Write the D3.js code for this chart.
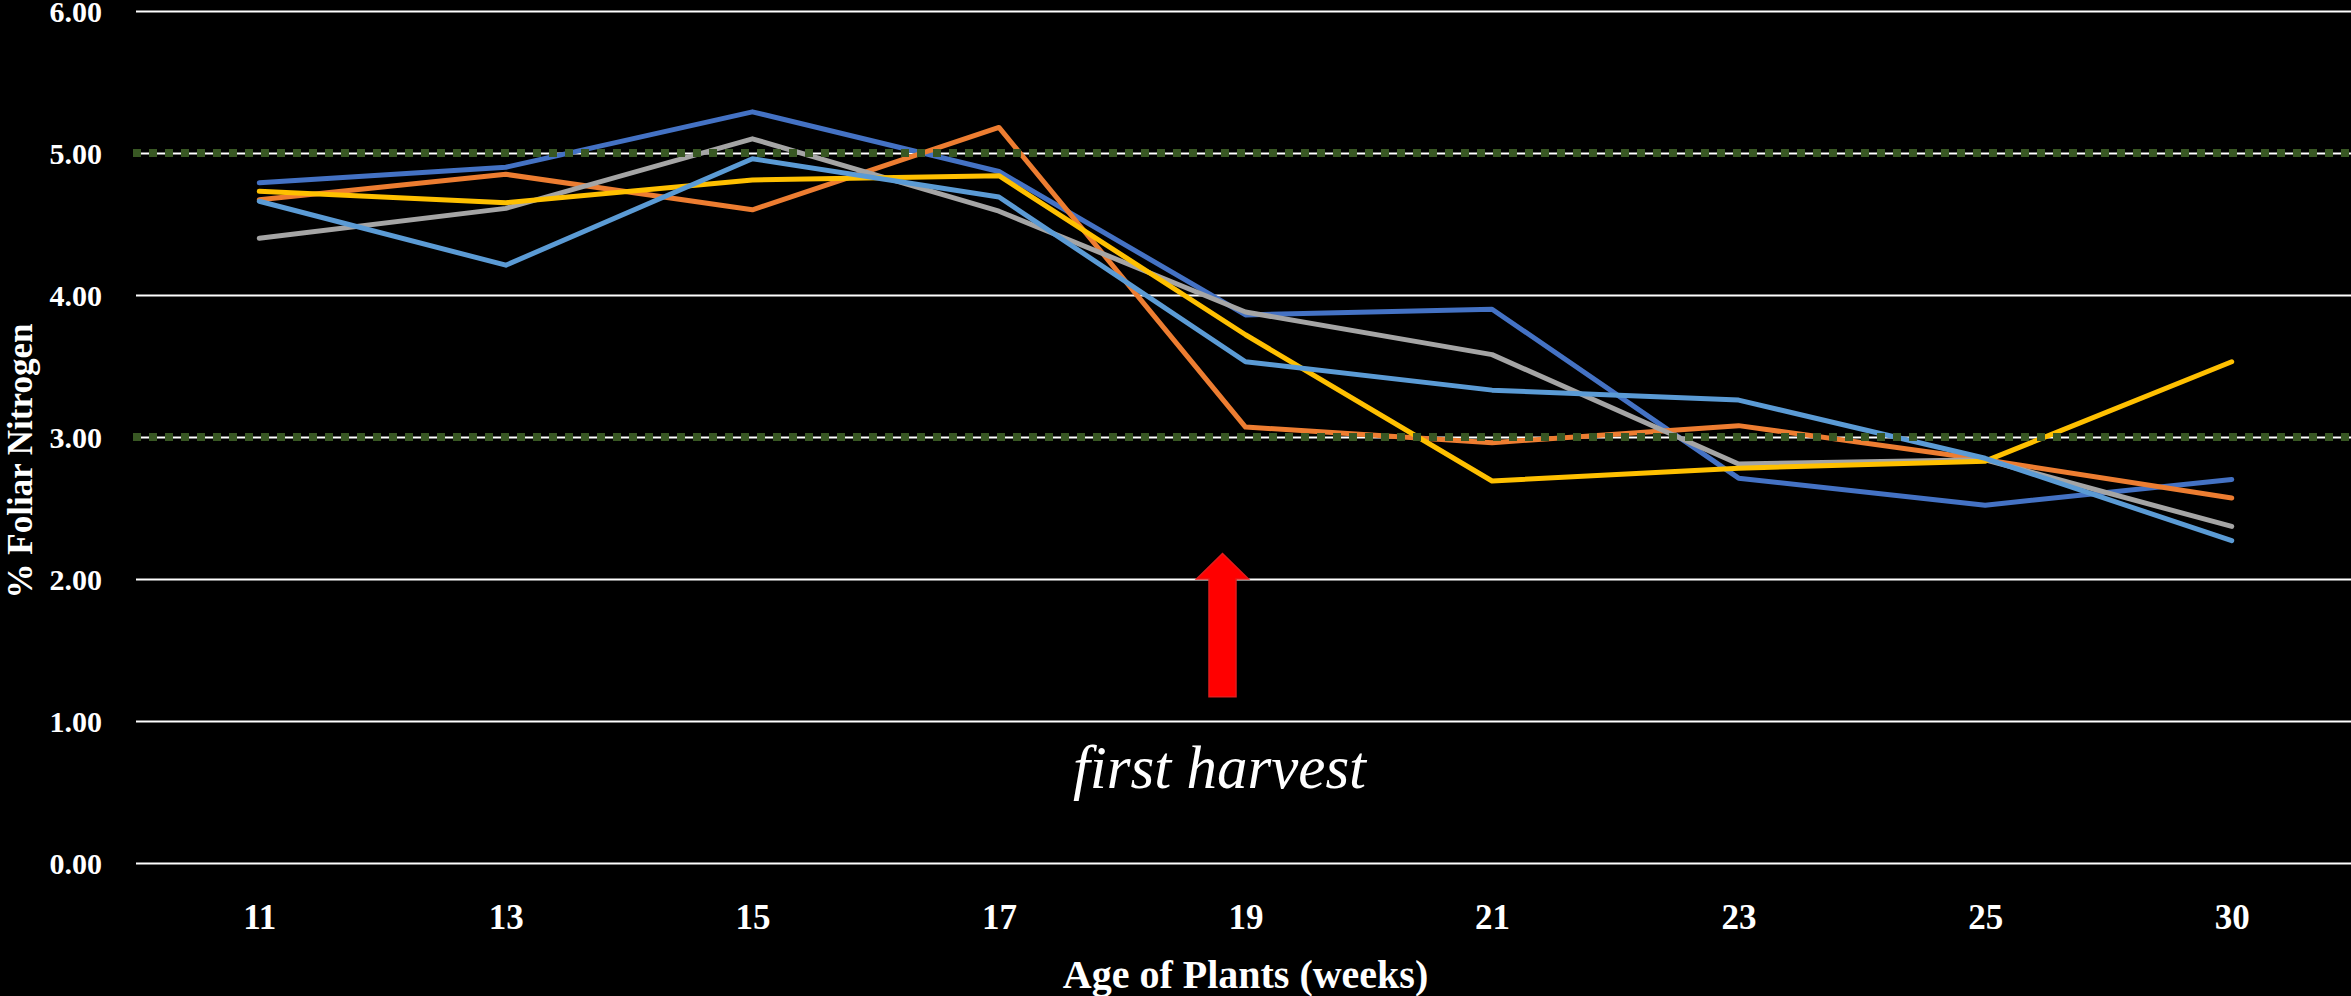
<!DOCTYPE html>
<html>
<head>
<meta charset="utf-8">
<script src="https://cdn.jsdelivr.net/npm/d3@7"></script>
<style>
  html, body { margin: 0; padding: 0; background: #000; }
  svg { display: block; }
  text { font-family: "Palatino Linotype", "Book Antiqua", Palatino, "Liberation Serif", serif; fill: #fff; }
</style>
</head>
<body>
<svg id="chart"></svg>
<script>
// weeks on the x axis (categories)
var weeks = ["11", "13", "15", "17", "19", "21", "23", "25", "30"];

// % foliar nitrogen, one array per plot
var series1 = [4.79, 4.90, 5.29, 4.87, 3.86, 3.90, 2.71, 2.52, 2.70];
var series2 = [4.67, 4.85, 4.60, 5.18, 3.07, 2.96, 3.08, 2.84, 2.57];
var series3 = [4.40, 4.61, 5.10, 4.59, 3.88, 3.58, 2.81, 2.84, 2.37];
var series4 = [4.73, 4.65, 4.81, 4.84, 3.72, 2.69, 2.78, 2.83, 3.53];
var series5 = [4.66, 4.21, 4.96, 4.69, 3.53, 3.33, 3.26, 2.85, 2.27];

var yTicks = [0, 1, 2, 3, 4, 5, 6];
var sufficiency = [5, 3];   // green dotted range lines

var colors = ["#4472C4", "#ED7D31", "#A5A5A5", "#FFC000", "#5B9BD5"];
var allSeries = [series1, series2, series3, series4, series5];

var W = 2351, H = 996;
var margin = {top: 11, right: -4, bottom: 133, left: 136};
var width = W - margin.left - margin.right,
    height = H - margin.top - margin.bottom;

var svg = d3.select("#chart").attr("width", W).attr("height", H);
svg.append("rect").attr("width", W).attr("height", H).attr("fill", "#000");

var g = svg.append("g").attr("transform", "translate(" + margin.left + "," + margin.top + ")");

var x = d3.scalePoint().domain(weeks).range([0, width]).padding(0.5);
var y = d3.scaleLinear().domain([0, 6]).range([height, 0]);

// y axis with grid lines
var yAxis = g.append("g")
    .call(d3.axisLeft(y).tickValues(yTicks).tickFormat(d3.format(".2f")).tickSize(-width).tickPadding(34));
yAxis.select(".domain").remove();
yAxis.selectAll("line").attr("stroke", "#fff").attr("stroke-width", 2);
yAxis.selectAll("text")
    .style("font-size", "30px").style("font-weight", "bold")
    .attr("fill", "#fff").attr("dy", "0.36em");

// x axis labels
var xAxis = g.append("g")
    .attr("transform", "translate(0," + height + ")")
    .call(d3.axisBottom(x).tickSize(0).tickPadding(66));
xAxis.select(".domain").remove();
xAxis.selectAll("text")
    .style("font-size", "35px").style("font-weight", "bold")
    .attr("fill", "#fff").attr("dy", "0");

// data lines
var line = d3.line()
    .x(function (d, i) { return x(weeks[i]); })
    .y(function (d) { return y(d); });

g.selectAll(".series")
    .data(allSeries)
    .enter()
    .append("path")
    .attr("class", "series")
    .attr("d", line)
    .attr("fill", "none")
    .attr("stroke", function (d, i) { return colors[i]; })
    .attr("stroke-width", 5)
    .attr("stroke-linejoin", "round")
    .attr("stroke-linecap", "round");

// green square-dot lines at 5.00 and 3.00
g.selectAll(".range")
    .data(sufficiency)
    .enter()
    .append("line")
    .attr("class", "range")
    .attr("x1", -3).attr("x2", width)
    .attr("y1", function (d) { return y(d); })
    .attr("y2", function (d) { return y(d); })
    .attr("stroke", "#385723")
    .attr("stroke-width", 8)
    .attr("stroke-dasharray", "8,8");

// red arrow pointing at first harvest
var ax = x("19") - 23;
var arrow = [
    [ax, y(2.18)],
    [ax + 26, y(2.0)],
    [ax + 13.5, y(2.0)],
    [ax + 13.5, y(1.17)],
    [ax - 13.5, y(1.17)],
    [ax - 13.5, y(2.0)],
    [ax - 26, y(2.0)]
];
g.append("path")
    .attr("d", "M" + arrow.join("L") + "Z")
    .attr("fill", "#FF0000")
    .attr("stroke", "#E31B1B")
    .attr("stroke-width", 1.5);

g.append("text")
    .attr("x", x("19") - 26)
    .attr("y", y(0.53))
    .attr("text-anchor", "middle")
    .style("font-size", "61px")
    .style("font-style", "italic")
    .text("first harvest");

// axis titles
svg.append("text")
    .attr("x", margin.left + width / 2)
    .attr("y", 988)
    .attr("text-anchor", "middle")
    .style("font-size", "40px").style("font-weight", "bold")
    .text("Age of Plants (weeks)");

svg.append("text")
    .attr("transform", "translate(32," + 461 + ") rotate(-90)")
    .attr("text-anchor", "middle")
    .style("font-size", "35px").style("font-weight", "bold")
    .text("% Foliar Nitrogen");
</script>
</body>
</html>
